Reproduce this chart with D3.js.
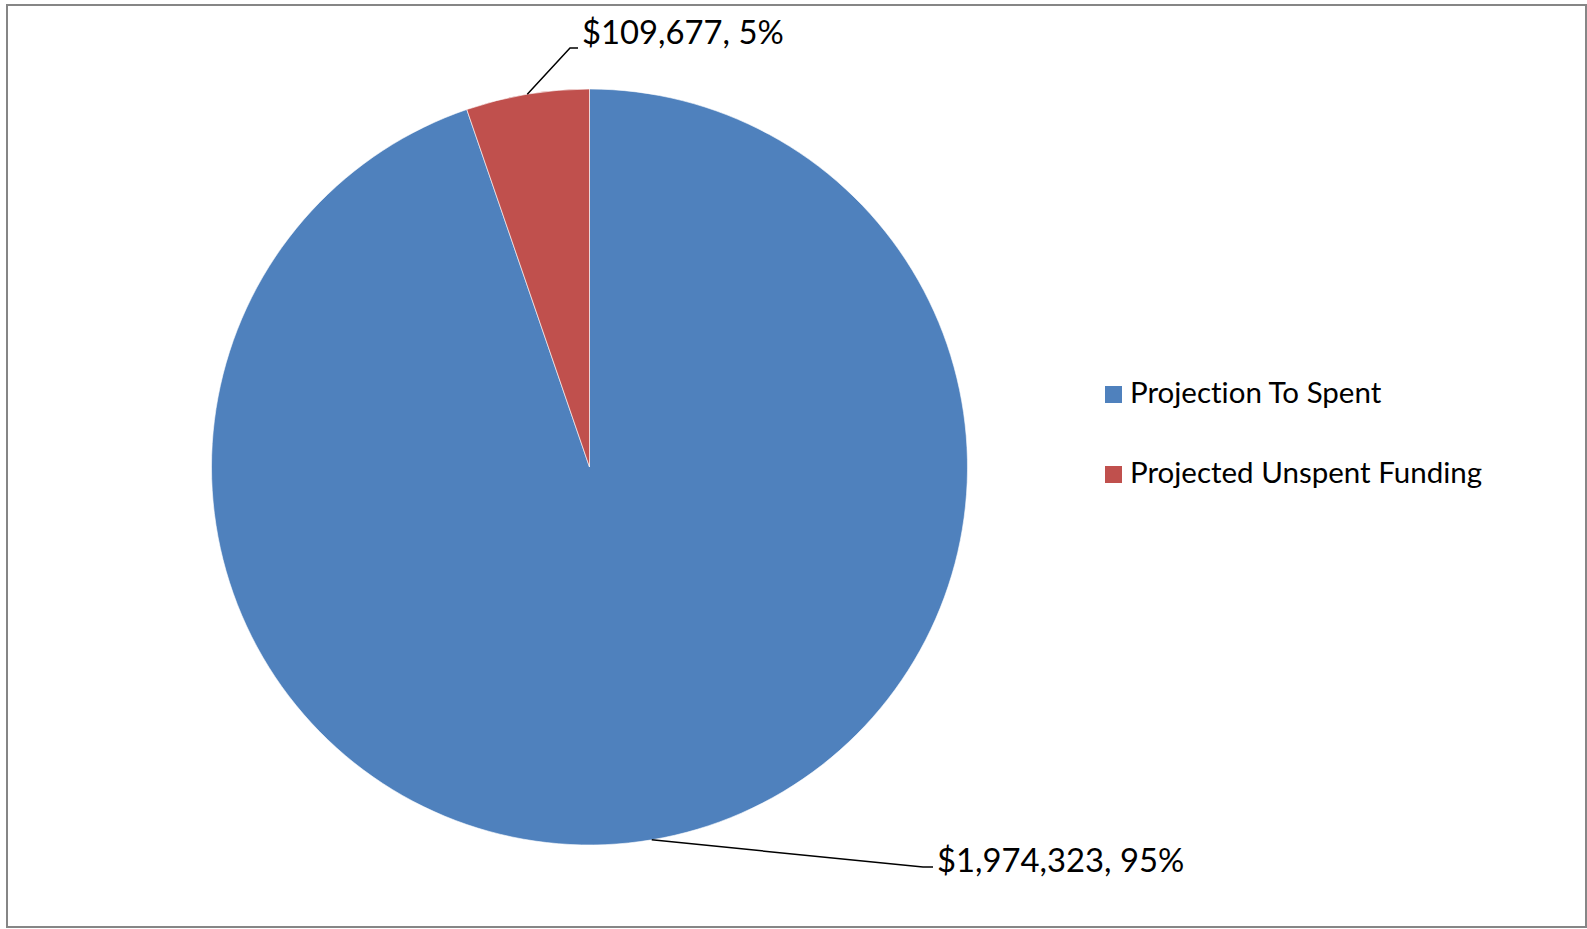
<!DOCTYPE html>
<html>
<head>
<meta charset="utf-8">
<script src="https://cdn.jsdelivr.net/npm/d3@7"></script>
<style>
  html, body { margin: 0; padding: 0; background: #ffffff; }
  svg { display: block; }
  text { font-variant-ligatures: none; font-feature-settings: "liga" 0; }
</style>
</head>
<body>
<svg id="chart" width="1587" height="929"></svg>
<script>
// Funding split
const categories = ["Projection To Spent", "Projected Unspent Funding"];
const values = [1974323, 109677];
const percentLabels = ["95%", "5%"];
const colors = ["#4F81BD", "#C0504D"];

const W = 1587, H = 929;
const svg = d3.select("#chart");

// chart area frame
svg.append("rect")
  .attr("x", 7).attr("y", 5)
  .attr("width", 1579).attr("height", 922)
  .attr("fill", "#ffffff")
  .attr("stroke", "#868686")
  .attr("stroke-width", 2);

const cx = 589.5, cy = 467, R = 378;
const g = svg.append("g").attr("transform", `translate(${cx},${cy})`);

const pie = d3.pie().sort(null).value(d => d)
  .startAngle(0).endAngle(2 * Math.PI);
const arcs = pie(values);
const arc = d3.arc().innerRadius(0).outerRadius(R);

g.selectAll("path.slice")
  .data(arcs)
  .join("path")
  .attr("class", "slice")
  .attr("d", arc)
  .attr("fill", (d, i) => colors[i])
  .attr("stroke", "#ffffff")
  .attr("stroke-width", 0.6);

// data labels with leader lines
const fmt = d3.format("$,");
// where each label sits, relative to the pie centre: bend point, line end, text anchor
const labelLayout = [
  { bend: [333.5, 400], end: [343.5, 400], text: [347.5, 404.5] },
  { bend: [-19.5, -419], end: [-11.5, -419], text: [-7.5, -423] }
];
const edgePoint = d => {
  const a = (d.startAngle + d.endAngle) / 2;
  return [R * Math.sin(a), -R * Math.cos(a)];
};

arcs.forEach((d, i) => {
  const p0 = edgePoint(d);
  const L = labelLayout[i];
  g.append("path")
    .attr("d", d3.line()([p0, L.bend, L.end]))
    .attr("fill", "none")
    .attr("stroke", "#000000")
    .attr("stroke-width", 1.5);
  g.append("text")
    .attr("x", L.text[0]).attr("y", L.text[1])
    .attr("font-family", "Lato, 'Noto Sans', sans-serif")
    .attr("font-size", 32.8)
    .attr("fill", "#000000")
    .text(`${fmt(d.data)}, ${percentLabels[i]}`);
});

// legend
const legend = svg.append("g").attr("transform", "translate(1105,386)");
const item = legend.selectAll("g.item")
  .data(categories)
  .join("g")
  .attr("class", "item")
  .attr("transform", (d, i) => `translate(0,${i * 80})`);
item.append("rect")
  .attr("width", 17).attr("height", 17)
  .attr("fill", (d, i) => colors[i]);
item.append("text")
  .attr("x", 25).attr("y", 17)
  .attr("font-family", "Lato, 'Noto Sans', sans-serif")
  .attr("font-size", 29.5)
  .attr("fill", "#000000")
  .text(d => d);
</script>
</body>
</html>
